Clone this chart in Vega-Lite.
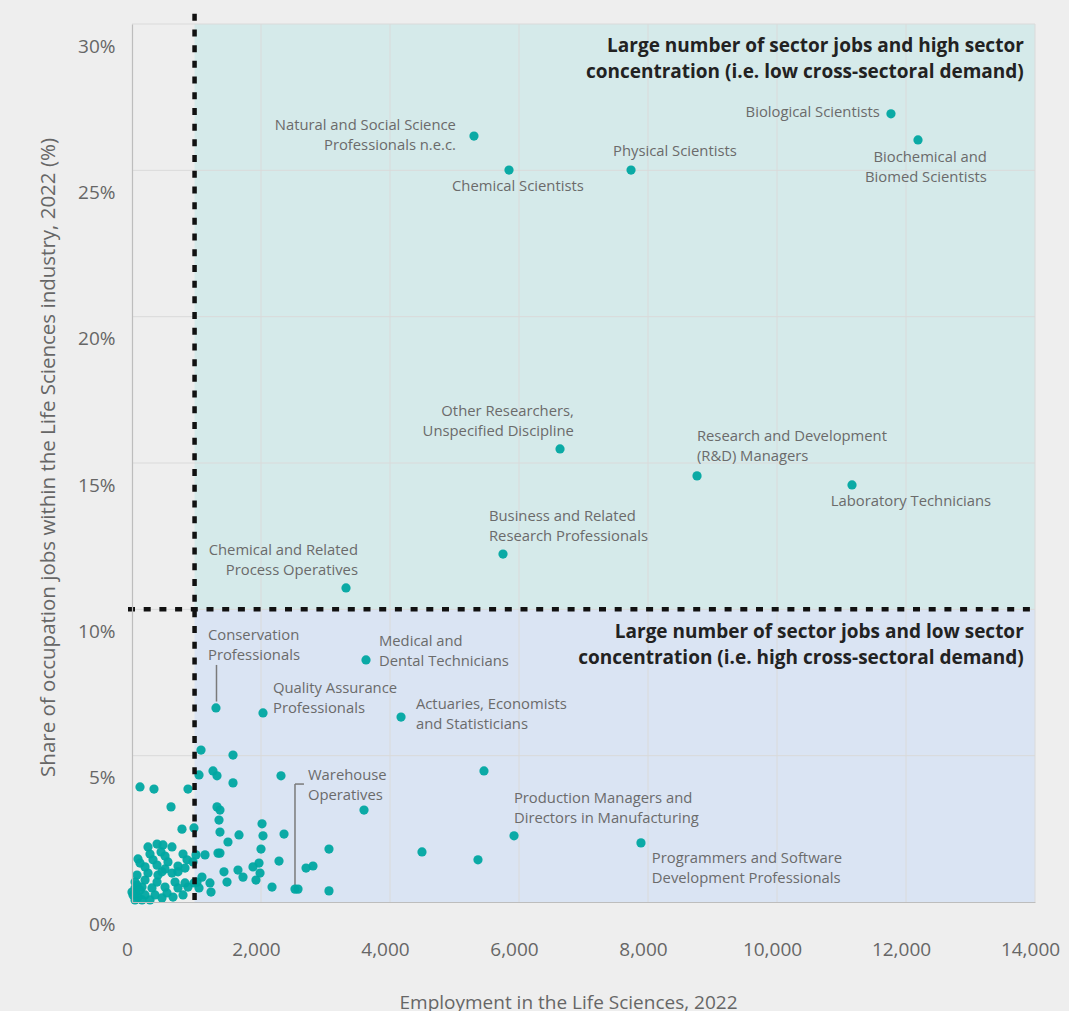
{
  "$schema": "https://vega.github.io/schema/vega-lite/v6.json",
  "autosize": "none",
  "width": 903,
  "height": 878,
  "padding": {"left": 132, "top": 24, "right": 34, "bottom": 109},
  "background": "#eeeeee",
  "config": {"view": {"stroke": null}, "font": "Open Sans"},
  "datasets": {
    "quadrants": [
      {"quadrant": "high", "x1": 970, "x2": 14000, "y1": 10, "y2": 30},
      {"quadrant": "low", "x1": 970, "x2": 14000, "y1": 0, "y2": 10}
    ],
    "gridx": [{"v": 2000}, {"v": 4000}, {"v": 6000}, {"v": 8000}, {"v": 10000}, {"v": 12000}, {"v": 14000}],
    "gridy": [{"v": 5}, {"v": 10}, {"v": 15}, {"v": 20}, {"v": 25}, {"v": 30}],
    "leaders": [
      {"x": 1310, "x2": 1310, "y": 8.1, "y2": 6.85},
      {"x": 2527, "x2": 2527, "y": 4.03, "y2": 0.58},
      {"x": 2527, "x2": 2666, "y": 4.03, "y2": 4.03}
    ],
    "points": [
      {"occ": "Natural and Social Science Professionals n.e.c.", "emp": 5302, "share": 26.17},
      {"occ": "Chemical Scientists", "emp": 5845, "share": 25.01},
      {"occ": "Physical Scientists", "emp": 7737, "share": 25.01},
      {"occ": "Biological Scientists", "emp": 11767, "share": 26.93},
      {"occ": "Biochemical and Biomed Scientists", "emp": 12186, "share": 26.04},
      {"occ": "Other Researchers, Unspecified Discipline", "emp": 6636, "share": 15.48},
      {"occ": "Research and Development (R&D) Managers", "emp": 8760, "share": 14.56},
      {"occ": "Laboratory Technicians", "emp": 11163, "share": 14.25},
      {"occ": "Business and Related Research Professionals", "emp": 5752, "share": 11.89},
      {"occ": "Chemical and Related Process Operatives", "emp": 3318, "share": 10.73},
      {"occ": "Medical and Dental Technicians", "emp": 3628, "share": 8.27},
      {"occ": "Conservation Professionals", "emp": 1302, "share": 6.63},
      {"occ": "Quality Assurance Professionals", "emp": 2031, "share": 6.46},
      {"occ": "Actuaries, Economists and Statisticians", "emp": 4171, "share": 6.32},
      {"occ": "Warehouse Operatives", "emp": 2527, "share": 0.44},
      {"occ": "Production Managers and Directors in Manufacturing", "emp": 5923, "share": 2.26},
      {"occ": "Programmers and Software Development Professionals", "emp": 7891, "share": 2.02},
      {"occ": "", "emp": 5457, "share": 4.48},
      {"occ": "", "emp": 3597, "share": 3.14},
      {"occ": "", "emp": 4496, "share": 1.71},
      {"occ": "", "emp": 5364, "share": 1.44},
      {"occ": "", "emp": 3054, "share": 1.81},
      {"occ": "", "emp": 3054, "share": 0.38},
      {"occ": "", "emp": 2806, "share": 1.23},
      {"occ": "", "emp": 2698, "share": 1.16},
      {"occ": "", "emp": 2574, "share": 0.44},
      {"occ": "", "emp": 2171, "share": 0.51},
      {"occ": "", "emp": 2357, "share": 2.32},
      {"occ": "", "emp": 2310, "share": 4.31},
      {"occ": "", "emp": 2279, "share": 1.40},
      {"occ": "", "emp": 2016, "share": 2.67},
      {"occ": "", "emp": 2031, "share": 2.26},
      {"occ": "", "emp": 2000, "share": 1.81},
      {"occ": "", "emp": 1969, "share": 1.33},
      {"occ": "", "emp": 1876, "share": 1.20},
      {"occ": "", "emp": 1985, "share": 0.99},
      {"occ": "", "emp": 1922, "share": 0.75},
      {"occ": "", "emp": 1721, "share": 0.85},
      {"occ": "", "emp": 1643, "share": 1.09},
      {"occ": "", "emp": 1659, "share": 2.29},
      {"occ": "", "emp": 1488, "share": 2.05},
      {"occ": "", "emp": 1426, "share": 1.03},
      {"occ": "", "emp": 1473, "share": 0.68},
      {"occ": "", "emp": 1566, "share": 5.02},
      {"occ": "", "emp": 1566, "share": 4.07},
      {"occ": "", "emp": 1070, "share": 5.19},
      {"occ": "", "emp": 1039, "share": 4.34},
      {"occ": "", "emp": 1256, "share": 4.48},
      {"occ": "", "emp": 1318, "share": 4.31},
      {"occ": "", "emp": 1318, "share": 3.25},
      {"occ": "", "emp": 1364, "share": 3.14},
      {"occ": "", "emp": 1349, "share": 2.80},
      {"occ": "", "emp": 1364, "share": 2.39},
      {"occ": "", "emp": 1333, "share": 1.67},
      {"occ": "", "emp": 1364, "share": 1.67},
      {"occ": "", "emp": 1132, "share": 1.61},
      {"occ": "", "emp": 992, "share": 1.61},
      {"occ": "", "emp": 1085, "share": 0.85},
      {"occ": "", "emp": 1209, "share": 0.65},
      {"occ": "", "emp": 1225, "share": 0.34},
      {"occ": "", "emp": 1039, "share": 0.48},
      {"occ": "", "emp": 961, "share": 0.65},
      {"occ": "", "emp": 961, "share": 2.53},
      {"occ": "", "emp": 124, "share": 3.93},
      {"occ": "", "emp": 341, "share": 3.86},
      {"occ": "", "emp": 868, "share": 3.86},
      {"occ": "", "emp": 605, "share": 3.25},
      {"occ": "", "emp": 775, "share": 2.49},
      {"occ": "", "emp": 248, "share": 1.88},
      {"occ": "", "emp": 388, "share": 1.98},
      {"occ": "", "emp": 481, "share": 1.95},
      {"occ": "", "emp": 620, "share": 1.88},
      {"occ": "", "emp": 279, "share": 1.64},
      {"occ": "", "emp": 450, "share": 1.71},
      {"occ": "", "emp": 512, "share": 1.57},
      {"occ": "", "emp": 791, "share": 1.64},
      {"occ": "", "emp": 93, "share": 1.47},
      {"occ": "", "emp": 124, "share": 1.33},
      {"occ": "", "emp": 558, "share": 1.37},
      {"occ": "", "emp": 853, "share": 1.44},
      {"occ": "", "emp": 202, "share": 1.20},
      {"occ": "", "emp": 388, "share": 1.26},
      {"occ": "", "emp": 512, "share": 1.13},
      {"occ": "", "emp": 713, "share": 1.23},
      {"occ": "", "emp": 822, "share": 1.16},
      {"occ": "", "emp": 946, "share": 1.37},
      {"occ": "", "emp": 78, "share": 0.92},
      {"occ": "", "emp": 248, "share": 0.99},
      {"occ": "", "emp": 403, "share": 0.92},
      {"occ": "", "emp": 620, "share": 0.99},
      {"occ": "", "emp": 713, "share": 1.03},
      {"occ": "", "emp": 47, "share": 0.68},
      {"occ": "", "emp": 202, "share": 0.75},
      {"occ": "", "emp": 388, "share": 0.68},
      {"occ": "", "emp": 667, "share": 0.68},
      {"occ": "", "emp": 822, "share": 0.65},
      {"occ": "", "emp": 1008, "share": 0.68},
      {"occ": "", "emp": 47, "share": 0.48},
      {"occ": "", "emp": 155, "share": 0.51},
      {"occ": "", "emp": 310, "share": 0.48},
      {"occ": "", "emp": 512, "share": 0.51},
      {"occ": "", "emp": 713, "share": 0.48},
      {"occ": "", "emp": 868, "share": 0.51},
      {"occ": "", "emp": 16, "share": 0.24},
      {"occ": "", "emp": 93, "share": 0.17},
      {"occ": "", "emp": 202, "share": 0.24},
      {"occ": "", "emp": 357, "share": 0.24},
      {"occ": "", "emp": 543, "share": 0.31},
      {"occ": "", "emp": 791, "share": 0.24},
      {"occ": "", "emp": 47, "share": 0.07},
      {"occ": "", "emp": 155, "share": 0.07},
      {"occ": "", "emp": 279, "share": 0.07},
      {"occ": "", "emp": 465, "share": 0.14},
      {"occ": "", "emp": 636, "share": 0.17},
      {"occ": "", "emp": 0, "share": 0.34},
      {"occ": "", "emp": 78, "share": 0.58},
      {"occ": "", "emp": 465, "share": 1.03},
      {"occ": "", "emp": 326, "share": 1.44},
      {"occ": "", "emp": 62, "share": 0.31},
      {"occ": "", "emp": 124, "share": 0.41}
    ],
    "labelsRight": [
      {"text": ["Natural and Social Science", "Professionals n.e.c."], "x": 5022, "y": 26.51},
      {"text": ["Biological Scientists"], "x": 11594, "y": 26.96},
      {"text": ["Biochemical and", "Biomed Scientists"], "x": 13253, "y": 25.42},
      {"text": ["Other Researchers,", "Unspecified Discipline"], "x": 6851, "y": 16.74},
      {"text": ["Chemical and Related", "Process Operatives"], "x": 3503, "y": 11.99}
    ],
    "labelsCenter": [
      {"text": ["Chemical Scientists"], "x": 5983, "y": 24.43},
      {"text": ["Physical Scientists"], "x": 8417, "y": 25.63}
    ],
    "labelsLeft": [
      {"text": ["Research and Development", "(R&D) Managers"], "x": 8758, "y": 15.89},
      {"text": ["Laboratory Technicians"], "x": 10835, "y": 13.67},
      {"text": ["Business and Related", "Research Professionals"], "x": 5534, "y": 13.15},
      {"text": ["Medical and", "Dental Technicians"], "x": 3829, "y": 8.88},
      {"text": ["Conservation", "Professionals"], "x": 1178, "y": 9.09},
      {"text": ["Quality Assurance", "Professionals"], "x": 2186, "y": 7.28},
      {"text": ["Actuaries, Economists", "and Statisticians"], "x": 4402, "y": 6.73},
      {"text": ["Warehouse", "Operatives"], "x": 2728, "y": 4.31},
      {"text": ["Production Managers and", "Directors in Manufacturing"], "x": 5921, "y": 3.52},
      {"text": ["Programmers and Software", "Development Professionals"], "x": 8060, "y": 1.47}
    ],
    "quadTitles": [
      {"text": ["Large number of sector jobs and high sector", "concentration (i.e. low cross-sectoral demand)"], "x": 13826, "y": 29.26},
      {"text": ["Large number of sector jobs and low sector", "concentration (i.e. high cross-sectoral demand)"], "x": 13826, "y": 9.23}
    ]
  },
  "encoding": {
    "x": {
      "type": "quantitative",
      "scale": {"domain": [0, 14000], "nice": false, "zero": false},
      "axis": {
        "values": [0, 2000, 4000, 6000, 8000, 10000, 12000, 14000],
        "format": ",d",
        "grid": false,
        "ticks": false,
        "tickSize": 0,
        "domainColor": "#bdbdbd",
        "domainWidth": 1.2,
        "labelFontSize": 19,
        "labelColor": "#666666",
        "labelPadding": 38,
        "labelFlush": false,
        "labelOffset": -5,
        "labelOverlap": false,
        "title": "Employment in the Life Sciences, 2022",
        "titleFontSize": 19,
        "titleFontWeight": "normal",
        "titleColor": "#666666",
        "titleX": 436,
        "titleY": 91,
        "titleAlign": "center",
        "titleBaseline": "top",
        "zindex": 1
      }
    },
    "y": {
      "type": "quantitative",
      "scale": {"domain": [0, 30], "nice": false, "zero": false},
      "axis": {
        "values": [0, 5, 10, 15, 20, 25, 30],
        "labelExpr": "datum.value + '%'",
        "grid": false,
        "ticks": false,
        "tickSize": 0,
        "domainColor": "#bdbdbd",
        "domainWidth": 1.2,
        "labelFontSize": 19,
        "labelColor": "#666666",
        "labelPadding": 17,
        "labelOffset": 22,
        "title": "Share of occupation jobs within the Life Sciences industry, 2022 (%)",
        "titleFontSize": 20.5,
        "titleFontWeight": "normal",
        "titleColor": "#666666",
        "titleX": -84,
        "titleY": 433,
        "titleAngle": -90,
        "titleAlign": "center",
        "titleBaseline": "middle",
        "zindex": 1
      }
    }
  },
  "layer": [
    {
      "data": {"name": "quadrants"},
      "mark": {"type": "rect"},
      "encoding": {
        "x": {"field": "x1", "type": "quantitative"},
        "x2": {"field": "x2"},
        "y": {"field": "y1", "type": "quantitative"},
        "y2": {"field": "y2"},
        "color": {"field": "quadrant", "type": "nominal", "scale": {"domain": ["high", "low"], "range": ["#d5eaea", "#dae4f3"]}, "legend": null}
      }
    },
    {
      "data": {"name": "gridx"},
      "mark": {"type": "rule", "color": "#dadada", "strokeWidth": 1},
      "encoding": {"x": {"field": "v", "type": "quantitative"}}
    },
    {
      "data": {"name": "gridy"},
      "mark": {"type": "rule", "color": "#dadada", "strokeWidth": 1},
      "encoding": {"y": {"field": "v", "type": "quantitative"}}
    },
    {
      "data": {"name": "leaders"},
      "mark": {"type": "rule", "color": "#7a7a7a", "strokeWidth": 1.5},
      "encoding": {
        "x": {"field": "x", "type": "quantitative"},
        "x2": {"field": "x2"},
        "y": {"field": "y", "type": "quantitative"},
        "y2": {"field": "y2"}
      }
    },
    {
      "data": {"name": "points"},
      "mark": {"type": "circle", "size": 85, "color": "#00a7a1", "opacity": 0.95},
      "encoding": {
        "x": {"field": "emp", "type": "quantitative"},
        "y": {"field": "share", "type": "quantitative"},
        "tooltip": [{"field": "occ"}, {"field": "emp"}, {"field": "share"}]
      }
    },
    {
      "data": {"values": [{}]},
      "mark": {"type": "rule", "color": "#111111", "strokeWidth": 4.5, "strokeDash": [7, 8.7]},
      "encoding": {"x": {"datum": 970}, "y": {"datum": 30.35}, "y2": {"datum": -0.17}}
    },
    {
      "data": {"values": [{}]},
      "mark": {"type": "rule", "color": "#111111", "strokeWidth": 4.5, "strokeDash": [7, 8.7]},
      "encoding": {"y": {"datum": 10}, "x": {"datum": -62}, "x2": {"datum": 14000}}
    },
    {
      "data": {"name": "labelsRight"},
      "mark": {"type": "text", "align": "right", "baseline": "middle", "fontSize": 14.8, "lineHeight": 20, "color": "#6b6b6b"},
      "encoding": {"x": {"field": "x", "type": "quantitative"}, "y": {"field": "y", "type": "quantitative"}, "text": {"field": "text"}}
    },
    {
      "data": {"name": "labelsCenter"},
      "mark": {"type": "text", "align": "center", "baseline": "middle", "fontSize": 14.8, "lineHeight": 20, "color": "#6b6b6b"},
      "encoding": {"x": {"field": "x", "type": "quantitative"}, "y": {"field": "y", "type": "quantitative"}, "text": {"field": "text"}}
    },
    {
      "data": {"name": "labelsLeft"},
      "mark": {"type": "text", "align": "left", "baseline": "middle", "fontSize": 14.8, "lineHeight": 20, "color": "#6b6b6b"},
      "encoding": {"x": {"field": "x", "type": "quantitative"}, "y": {"field": "y", "type": "quantitative"}, "text": {"field": "text"}}
    },
    {
      "data": {"name": "quadTitles"},
      "mark": {"type": "text", "align": "right", "baseline": "middle", "fontSize": 19, "fontWeight": "bold", "lineHeight": 26, "color": "#222222"},
      "encoding": {"x": {"field": "x", "type": "quantitative"}, "y": {"field": "y", "type": "quantitative"}, "text": {"field": "text"}}
    }
  ]
}
